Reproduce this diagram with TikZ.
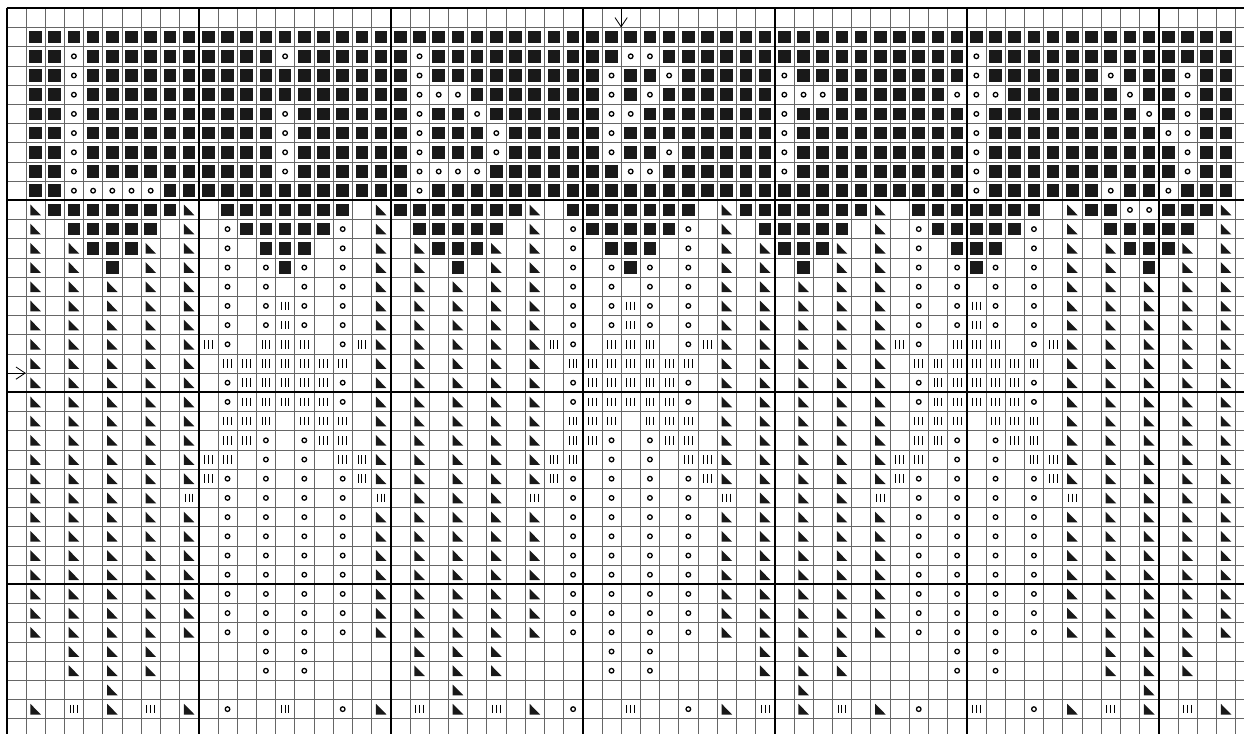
\documentclass[tikz,border=0pt]{standalone}
\usepackage{tikz}
\usetikzlibrary{arrows.meta}
\tikzset{
  gridline/.style={line width=0.45pt, black!60},
  gridmajor/.style={line width=1.3pt, black},
  markarrow/.style={-{Straight Barb[length=2.4mm, width=3.2mm]}, line width=0.6pt},
  stitchfill/.style={fill=black!90},
  symB/.pic={\fill[stitchfill] (-0.33,-0.33) rectangle (0.33,0.33);},
  symo/.pic={\draw[line width=0.95pt] (0,0) circle[radius=0.12];},
  symT/.pic={\fill[stitchfill] (-0.27,-0.28) -- (-0.27,0.28) -- (0.28,0.28) -- cycle;},
  symI/.pic={\draw[line width=0.7pt] (-0.2,-0.22) -- (-0.2,0.22) (0,-0.22) -- (0,0.22) (0.2,-0.22) -- (0.2,0.22);}
}
\newcommand\stitchrow[2]{\def\stitchr{#1}\def\stitchc{0}\stitchnext#2\relax}
\newcommand\stitchnext[1]{%
  \ifx\relax#1\else
    \ifx.#1\else\pic at (\stitchc+0.5,\stitchr+0.5) {sym#1};\fi
    \edef\stitchc{\the\numexpr\stitchc+1\relax}%
    \expandafter\stitchnext
  \fi}

\begin{document}
\begin{tikzpicture}[x=0.5cm, y=-0.5cm]
  \useasboundingbox (-0.349,-0.432) rectangle (64.44,37.8);
  \fill[white] (-0.349,-0.432) rectangle (64.44,37.8);
  \foreach \c in {0,...,64} \draw[gridline] (\c,0) -- (\c,37.8);
  \foreach \r in {0,...,37} \draw[gridline] (0,\r) -- (64.44,\r);
  \foreach \c in {0,10,...,60} \draw[gridmajor] (\c,0) -- (\c,37.8);
  \foreach \r in {0,10,20,30} \draw[gridmajor] (0,\r) -- (64.44,\r);

  \stitchrow{1}{.BBBBBBBBB BBBBBBBBBB BBBBBBBBBB BBBBBBBBBB BBBBBBBBBB BBBBBBBBBB BBBB}
  \stitchrow{2}{.BBoBBBBBB BBBBoBBBBB BoBBBBBBBB BBooBBBBBB BBBBBBBBBB oBBBBBBBBB BBBB}
  \stitchrow{3}{.BBoBBBBBB BBBBBBBBBB BoBBBBBBBB BoBBoBBBBB oBBBBBBBBB oBBBBBBoBB BoBB}
  \stitchrow{4}{.BBoBBBBBB BBBBBBBBBB BoooBBBBBB BoBoBBBBBB oooBBBBBBo ooBBBBBBoB BoBB}
  \stitchrow{5}{.BBoBBBBBB BBBBoBBBBB BoBBoBBBBB BooBBBBBBB oBBBBBBBBB oBBBBBBBBo BoBB}
  \stitchrow{6}{.BBoBBBBBB BBBBoBBBBB BoBBBoBBBB BoBBBBBBBB oBBBBBBBBB oBBBBBBBBB ooBB}
  \stitchrow{7}{.BBoBBBBBB BBBBoBBBBB BoBBBoBBBB BoBBoBBBBB oBBBBBBBBB oBBBBBBBBB BoBB}
  \stitchrow{8}{.BBoBBBBBB BBBBoBBBBB BooooBBBBB BBooBBBBBB oBBBBBBBBB oBBBBBBBBB BoBB}
  \stitchrow{9}{.BBoooooBB BBBBBBBBBB BoBBBBBBBB BBBBBBBBBB BBBBBBBBBB oBBBBBBoBB oBBB}
  \stitchrow{10}{.TBBBBBBBT .BBBBBBB.T BBBBBBBT.B BBBBBB.TBB BBBBBT.BBB BBBB.TBBoo BBBT}
  \stitchrow{11}{.T.BBBBB.T .oBBBBBo.T .BBBBB.T.o BBBBBo.T.B BBBB.T.oBB BBBo.T.BBB BB.T}
  \stitchrow{12}{.T.TBBBT.T .o.BBB.o.T .TBBBT.T.o .BBB.o.T.T BBBT.T.o.B BB.o.T.TBB BT.T}
  \stitchrow{13}{.T.T.B.T.T .o.oBo.o.T .T.B.T.T.o .oBo.o.T.T .B.T.T.o.o Bo.o.T.T.B .T.T}
  \foreach \r in {14,26,27,28,29,30,31,32}
    \stitchrow{\r}{.T.T.T.T.T .o.o.o.o.T .T.T.T.T.o .o.o.o.T.T .T.T.T.o.o .o.o.T.T.T .T.T};
  \foreach \r in {15,16}
    \stitchrow{\r}{.T.T.T.T.T .o.oIo.o.T .T.T.T.T.o .oIo.o.T.T .T.T.T.o.o Io.o.T.T.T .T.T};
  \stitchrow{17}{.T.T.T.T.T Io.III.oIT .T.T.T.TIo .III.oIT.T .T.T.TIo.I II.oIT.T.T .T.T}
  \stitchrow{18}{.T.T.T.T.T .IIIIIII.T .T.T.T.T.I IIIIII.T.T .T.T.T.III IIII.T.T.T .T.T}
  \foreach \r in {19,20}
    \stitchrow{\r}{.T.T.T.T.T .oIIIIIo.T .T.T.T.T.o IIIIIo.T.T .T.T.T.oII IIIo.T.T.T .T.T};
  \stitchrow{21}{.T.T.T.T.T .III.III.T .T.T.T.T.I II.III.T.T .T.T.T.III .III.T.T.T .T.T}
  \stitchrow{22}{.T.T.T.T.T .IIo.oII.T .T.T.T.T.I Io.oII.T.T .T.T.T.IIo .oII.T.T.T .T.T}
  \stitchrow{23}{.T.T.T.T.T II.o.o.IIT .T.T.T.TII .o.o.IIT.T .T.T.TII.o .o.IIT.T.T .T.T}
  \stitchrow{24}{.T.T.T.T.T Io.o.o.oIT .T.T.T.TIo .o.o.oIT.T .T.T.TIo.o .o.oIT.T.T .T.T}
  \stitchrow{25}{.T.T.T.T.I .o.o.o.o.I .T.T.T.I.o .o.o.o.I.T .T.T.I.o.o .o.o.I.T.T .T.T}
  \foreach \r in {33,34}
    \stitchrow{\r}{...T.T.T.. ...o.o.... .T.T.T.... .o.o.....T .T.T.....o .o.....T.T .T..};
  \stitchrow{35}{.....T.... .......... ...T...... .......... .T........ .........T ....}
  \stitchrow{36}{.T.I.T.I.T .o..I..o.T .I.T.I.T.o ..I..o.T.I .T.I.T.o.. I..o.T.I.T .I.T}

  \coordinate (topmark) at (32,0);
  \coordinate (centrecol) at (32,1);
  \coordinate (leftmark) at (0,19);
  \coordinate (centrerow) at (1,19);
  \draw[markarrow] (topmark) -- (centrecol);
  \draw[markarrow] (leftmark) -- (centrerow);
\end{tikzpicture}
\end{document}
